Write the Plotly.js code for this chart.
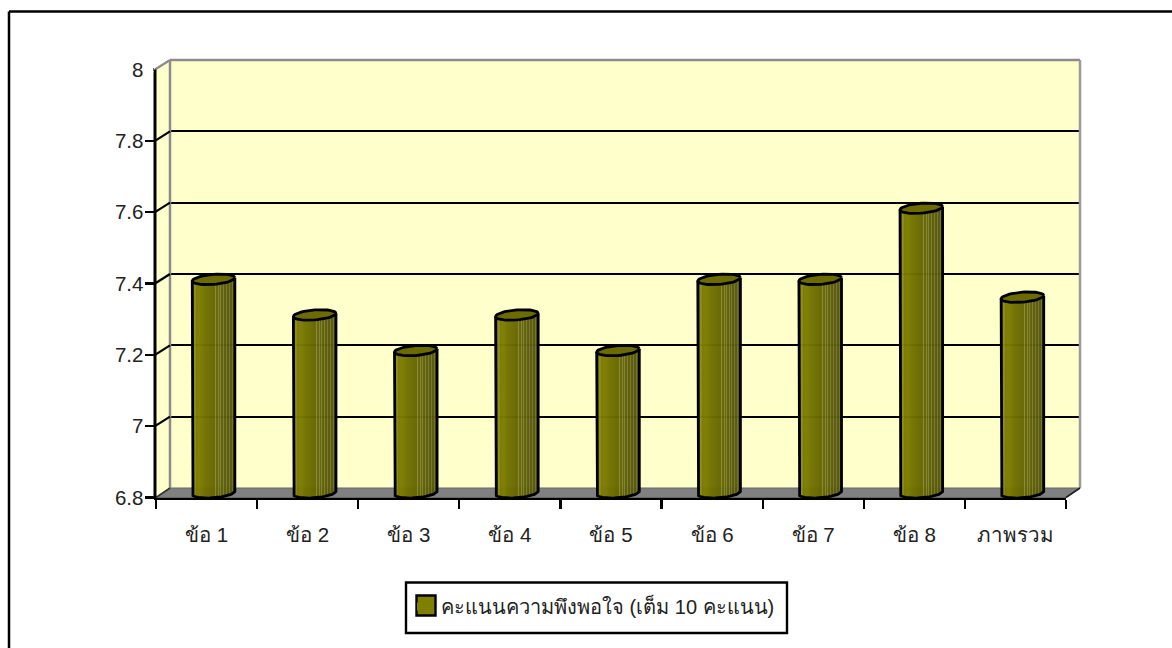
<!DOCTYPE html>
<html><head><meta charset="utf-8">
<script src="https://cdn.plot.ly/plotly-3.0.1.min.js"></script>
<style>html,body{margin:0;padding:0;background:#fff}#c{width:1172px;height:648px}</style></head>
<body><div id="c"></div>
<script>
var categories = ['ข้อ 1','ข้อ 2','ข้อ 3','ข้อ 4','ข้อ 5','ข้อ 6','ข้อ 7','ข้อ 8','ภาพรวม'];
var scores = [7.4,7.3,7.2,7.3,7.2,7.4,7.4,7.6,7.35];
var seriesName = 'คะแนนความพึงพอใจ (เต็ม 10 คะแนน)';
var yTicks = [6.8,7,7.2,7.4,7.6,7.8,8];
var yTickText = ['6.8','7','7.2','7.4','7.6','7.8','8'];
var gridTicks = [7,7.2,7.4,7.6,7.8];
var yMin = 6.8, yMax = 8;
var shading = ['#6a6a00','#6e6e00','#88881c','#868618','#787800','#7a7a00','#7c7c00','#7c7c00','#7a7a00','#787800','#767600','#747400','#727200','#707000','#6e6e00','#6d6d00','#6c6c00','#6b6b00','#6a6a00','#696900','#686800','#676700','#666604','#868634','#666606','#646404','#82822e','#626204','#808030','#606006','#5e5e06','#7c7c30','#5c5c06','#5a5a08','#76762c','#5a5a08','#585808','#74742c','#58580a','#56560a','#70702c','#56560c','#54540c'];

// pixel frame of the chart
var W=1172,H=648, fL=156, fR=1066, fT=69.5, fB=497.5, dX=14, dY=-9.5;
function xd(s){return [(fL+dX*s)/W,(fR+dX*s)/W];}
function yd(s){return [1-(fB+dY*s)/H,1-(fT+dY*s)/H];}
var pxPerCat=(fR-fL)/categories.length, pxPerVal=(fB-fT)/(yMax-yMin);
var halfW=21.3/pxPerCat, ellB=5/pxPerVal, ellTilt=1.6/pxPerVal;
var pad=20/pxPerVal; // room beneath the lowest value for the rounded cylinder foot

var traces=[];
var idx=categories.map(function(_,i){return i;});
// cylinder body: one bar trace per shading strip
var N=shading.length, sw=2*halfW/N;
shading.forEach(function(col,k){
  var u=(k+0.5)/N*2-1; // -1..1 across the cylinder
  var foot=yMin+ellTilt*u-ellB*Math.sqrt(1-u*u);
  traces.push({type:'bar',xaxis:'x2',yaxis:'y2',x:idx,
    y:scores.map(function(v){return v+ellTilt*u-foot;}),
    base:scores.map(function(){return foot;}),
    offset:-halfW+k*sw,width:sw,marker:{color:col,opacity:0.97,line:{width:0}},
    showlegend:false,hoverinfo:'skip'});
});
// outlines
var ox=[],oy=[],ex=[],ey=[];
idx.forEach(function(i){
  var v=scores[i];
  ox.push(i-halfW);oy.push(v-ellTilt);
  for(var a=0;a<=36;a++){var t=Math.PI-a/36*Math.PI;
    ox.push(i+halfW*Math.cos(t));oy.push(yMin+ellTilt*Math.cos(t)-ellB*Math.sin(t));}
  ox.push(i+halfW,null);oy.push(v+ellTilt,null);
  for(var b=0;b<=48;b++){var s=b/48*2*Math.PI;
    ex.push(i+halfW*Math.cos(s));ey.push(v+ellTilt*Math.cos(s)+ellB*Math.sin(s));}
  ex.push(null);ey.push(null);
});
traces.push({type:'scatter',mode:'lines',xaxis:'x2',yaxis:'y2',x:ox,y:oy,line:{color:'#000',width:2.8},showlegend:false,hoverinfo:'skip'});
traces.push({type:'scatter',mode:'lines',xaxis:'x2',yaxis:'y2',x:ex,y:ey,fill:'toself',fillcolor:'#6b6b00',line:{color:'#000',width:2.8},showlegend:false,hoverinfo:'skip'});
// back-wall grid carrier
traces.push({type:'scatter',mode:'markers',xaxis:'x',yaxis:'y',x:[null],y:[null],showlegend:false,hoverinfo:'skip'});
// front axis carrier
traces.push({type:'bar',xaxis:'x3',yaxis:'y3',x:categories,y:scores.map(function(){return null;}),showlegend:false,hoverinfo:'skip'});
// legend entry
traces.push({type:'scatter',mode:'markers',xaxis:'x2',yaxis:'y2',x:[null],y:[null],name:seriesName,
  marker:{symbol:'square',size:8,color:'#808000'},showlegend:true,hoverinfo:'skip'});

function fy(v){return fB-(v-yMin)*pxPerVal;}
var bx=function(x){return x/W;}, by=function(y){return 1-y/H;};
function poly(pts,fill,line,lw,layer){
  return {type:'path',xref:'paper',yref:'paper',layer:layer||'below',
    path:'M'+pts.map(function(p){return bx(p[0])+','+by(p[1]);}).join('L')+'Z',
    fillcolor:fill,line:{color:line||'rgba(0,0,0,0)',width:lw||0}};
}
function seg(x0,y0,x1,y1,col,w,layer){
  return {type:'line',xref:'paper',yref:'paper',layer:layer||'below',x0:bx(x0),y0:by(y0),x1:bx(x1),y1:by(y1),line:{color:col,width:w}};
}
function box(x0,y0,x1,y1,fill,line,lw,layer){
  return {type:'rect',xref:'paper',yref:'paper',layer:layer||'below',x0:bx(x0),x1:bx(x1),y0:by(y0),y1:by(y1),fillcolor:fill,line:{color:line,width:lw}};
}
var backL=fL+dX, backR=fR+dX, backT=fT+dY, backB=fB+dY;
var shapes=[
  seg(9,11.5,1172,11.5,'#000',2.5),
  seg(9,11.5,9,648,'#000',2.5),
  box(406,582.5,787,633,'#fff','#000',2.4),
  poly([[backL,backT],[backR,backT],[backR,backB],[backL,backB]],'#FFFFCC'),
  poly([[fL,fT],[backL,backT],[backL,backB],[fL,fB]],'#FFFFCC'),
  poly([[fL,fB],[fR,fB],[backR,backB],[backL,backB]],'#808080','#666666',1),
  seg(backL,backT,backR,backT,'#8c8c8c',2.5,'above'),
  seg(backR,backT,backR,backB,'#9a9a9a',2.5,'above'),
  seg(backL,backT,backL,backB,'#8c8c8c',2.5,'above'),
  seg(fL-1,fT,backL,backT,'#8c8c8c',2.2,'above'),
  seg(fR,fB,backR,backB,'#222',1.6,'above'),
  seg(fL,fB,backL,backB,'#333',1.6,'above'),
  seg(fL-1,fT,fL-1,fB,'#000',3,'above'),
  // no tick at the top value
  box(145,fT-3,153.4,fT+3,'#fff','rgba(0,0,0,0)',0,'above'),
  // legend swatch frame
  box(416.5,595.5,435.5,615.5,'#808000','#000',2.4,'above')
];
gridTicks.forEach(function(v){shapes.push(seg(fL-1,fy(v),backL,fy(v)+dY,'#000',2.2,'above'));});

var tickFont={family:'"Liberation Sans","Noto Sans",sans-serif',size:20.5,color:'#222'};
var thaiFont={family:'"Liberation Sans","Noto Sans",sans-serif',size:20,color:'#222'};
var labelFont={family:'"Liberation Sans","Noto Sans",sans-serif',size:20.5,color:'#222'};
var layout={
  width:W,height:H,autosize:false,margin:{l:0,r:0,t:0,b:0},
  paper_bgcolor:'#fff',plot_bgcolor:'rgba(0,0,0,0)',barmode:'overlay',bargap:0,
  font:tickFont,showlegend:true,
  legend:{x:401/W,y:1-587/H,xanchor:'left',yanchor:'top',bgcolor:'rgba(0,0,0,0)',borderwidth:0,font:thaiFont,itemclick:false,itemdoubleclick:false},
  // back wall
  xaxis:{domain:xd(1),range:[-0.5,8.5],visible:false,anchor:'y',fixedrange:true},
  yaxis:{domain:yd(1),range:[yMin,yMax],anchor:'x',showticklabels:false,ticks:'',tickmode:'array',tickvals:gridTicks,showgrid:true,gridcolor:'#000',gridwidth:2,zeroline:false,showline:false,fixedrange:true},
  // mid depth, where the cylinders stand
  xaxis2:{domain:xd(0.5),range:[-0.5,8.5],visible:false,anchor:'y2',fixedrange:true},
  yaxis2:{domain:[1-(fB+dY/2+pad*pxPerVal)/H,1-(fT+dY/2+1.2)/H],range:[yMin-pad,yMax],visible:false,anchor:'x2',fixedrange:true},
  // front axes with ticks and labels
  xaxis3:{domain:xd(0),type:'category',categoryorder:'array',categoryarray:categories,range:[-0.5,8.5],anchor:'y3',showline:true,linecolor:'#000',linewidth:2.5,ticks:'outside',tickson:'boundaries',ticklen:9,tickwidth:2.2,tickcolor:'#000',showgrid:false,ticklabelstandoff:17,tickfont:labelFont,fixedrange:true},
  yaxis3:{domain:yd(0),range:[yMin,yMax],anchor:'x3',showline:true,linecolor:'#000',linewidth:2.5,ticks:'outside',ticklen:9,tickwidth:2.2,tickcolor:'#000',tickmode:'array',tickvals:yTicks,ticktext:yTickText,showgrid:false,zeroline:false,ticklabelstandoff:-3,tickfont:tickFont,fixedrange:true},
  shapes:shapes
};
Plotly.newPlot('c',traces,layout,{displayModeBar:false,staticPlot:true});
</script></body></html>
